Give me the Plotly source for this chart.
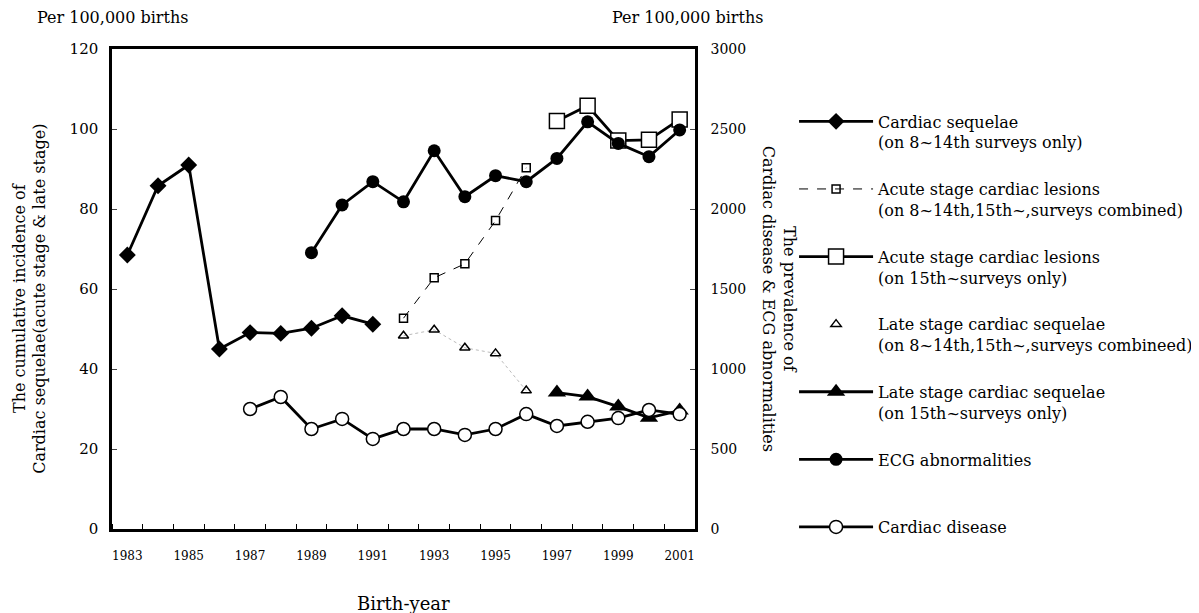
import plotly.graph_objects as go

# Left axis: cumulative incidence (per 100,000 births)
seq_years = [1983, 1984, 1985, 1986, 1987, 1988, 1989, 1990, 1991]
seq_vals = [68.5, 85.8, 91, 45, 49.1, 48.9, 50.2, 53.3, 51.2]

acute_comb_years = [1992, 1993, 1994, 1995, 1996]
acute_comb_vals = [52.7, 62.8, 66.3, 77.1, 90.3]

acute_15_years = [1997, 1998, 1999, 2000, 2001]
acute_15_vals = [102, 105.8, 97.1, 97.3, 102.4]

late_comb_years = [1992, 1993, 1994, 1995, 1996]
late_comb_vals = [48.3, 49.8, 45.3, 43.9, 34.6]

late_15_years = [1997, 1998, 1999, 2000, 2001]
late_15_vals = [34.1, 33.1, 30.6, 27.8, 29.6]

# Right axis: prevalence (per 100,000 births)
ecg_years = list(range(1989, 2002))
ecg_vals = [1727, 2025, 2171, 2045, 2364, 2077, 2208, 2171, 2316, 2545, 2410, 2327, 2494]

disease_years = list(range(1987, 2002))
disease_vals = [750, 825, 625, 688, 563, 625, 625, 588, 625, 718, 644, 670, 693, 744, 718]

year_ticks = [1983, 1985, 1987, 1989, 1991, 1993, 1995, 1997, 1999, 2001]

FONT = "DejaVu Serif"

fig = go.Figure()

fig.add_trace(go.Scatter(
    x=seq_years, y=seq_vals, mode="lines+markers", legendgroup="a",
    name="Cardiac sequelae<br>(on 8~14th surveys only)",
    line=dict(color="black", width=2.8),
    marker=dict(symbol="diamond", size=13, color="black"),
))
fig.add_trace(go.Scatter(
    x=acute_comb_years, y=acute_comb_vals, mode="lines+markers", legendgroup="b",
    name="Acute stage cardiac lesions<br>(on 8~14th,15th~,surveys combined)",
    line=dict(color="black", width=1, dash="dash"),
    marker=dict(symbol="square-open", size=8, color="black", line=dict(width=1.5)),
))
fig.add_trace(go.Scatter(
    x=acute_15_years, y=acute_15_vals, mode="lines+markers", legendgroup="c",
    name="Acute stage cardiac lesions<br>(on 15th~surveys only)",
    line=dict(color="black", width=2.8),
    marker=dict(symbol="square", size=15, color="white", line=dict(color="black", width=1.5)),
))
fig.add_trace(go.Scatter(
    x=late_comb_years, y=late_comb_vals, mode="lines", showlegend=False,
    line=dict(color="#bbbbbb", width=1, dash="dot"),
))
fig.add_trace(go.Scatter(
    x=late_comb_years, y=late_comb_vals, mode="markers", legendgroup="d",
    name="Late stage cardiac sequelae<br>(on 8~14th,15th~,surveys combineed)",
    marker=dict(symbol="triangle-up-open", size=9, color="black", line=dict(width=1.5)),
))
fig.add_trace(go.Scatter(
    x=late_15_years, y=late_15_vals, mode="lines+markers", legendgroup="e",
    name="Late stage cardiac sequelae<br>(on 15th~surveys only)",
    line=dict(color="black", width=2.8),
    marker=dict(symbol="triangle-up", size=16, color="black"),
))
fig.add_trace(go.Scatter(
    x=ecg_years, y=ecg_vals, mode="lines+markers", yaxis="y2", legendgroup="f",
    name="ECG abnormalities<br> ",
    line=dict(color="black", width=2.8),
    marker=dict(symbol="circle", size=13, color="black"),
))
fig.add_trace(go.Scatter(
    x=disease_years, y=disease_vals, mode="lines+markers", yaxis="y2", legendgroup="g",
    name="Cardiac disease<br> ",
    line=dict(color="black", width=2.8),
    marker=dict(symbol="circle", size=13, color="white", line=dict(color="black", width=1.5)),
))

fig.update_layout(
    width=1191, height=605,
    margin=dict(l=104, r=504, t=41, b=84),
    plot_bgcolor="white", paper_bgcolor="white",
    font=dict(family=FONT, color="black", size=14),
    xaxis=dict(
        range=[1982.5, 2001.5], tickmode="array", tickvals=year_ticks,
        ticks="", showgrid=False, zeroline=False,
        showline=True, linecolor="black", linewidth=2.5, mirror=True,
        tickfont=dict(size=12), ticklabelstandoff=14,
        minor=dict(tickmode="linear", tick0=1982.5, dtick=1, ticks="inside",
                   ticklen=5, tickcolor="black", showgrid=False),
    ),
    yaxis=dict(
        range=[0, 120], dtick=20, ticks="inside", ticklen=5,
        showgrid=False, zeroline=False,
        showline=True, linecolor="black", linewidth=2.5, mirror=True,
        tickfont=dict(size=15), ticklabelstandoff=8,
    ),
    yaxis2=dict(
        range=[0, 3000], dtick=500, overlaying="y", side="right",
        ticks="inside", ticklen=5, showgrid=False, zeroline=False,
        showline=True, linecolor="black", linewidth=2.5,
        tickfont=dict(size=14), ticklabelstandoff=10,
    ),
    legend=dict(
        xref="container", x=0.66, y=0.8845, xanchor="left", yanchor="top",
        traceorder="grouped", tracegroupgap=23, valign="top",
        itemwidth=74,
        font=dict(size=16, family=FONT), bgcolor="rgba(0,0,0,0)",
    ),
    annotations=[
        dict(text="Per 100,000 births", xref="paper", yref="paper",
             x=-0.132, y=1.065, xanchor="left", yanchor="middle",
             showarrow=False, font=dict(size=16)),
        dict(text="Per 100,000 births", xref="paper", yref="paper",
             x=0.854, y=1.065, xanchor="left", yanchor="middle",
             showarrow=False, font=dict(size=16)),
        dict(text="The cumulative incidence of<br>Cardiac sequelae(acute stage & late stage)",
             xref="paper", yref="paper", x=-0.142, y=0.48, textangle=-90,
             xanchor="center", yanchor="middle", showarrow=False, font=dict(size=16)),
        dict(text="The prevalence of<br>Cardiac disease & ECG abnormalities",
             xref="paper", yref="paper", x=1.144, y=0.48, textangle=90,
             xanchor="center", yanchor="middle", showarrow=False, font=dict(size=16)),
        dict(text="Birth-year", xref="paper", yref="paper",
             x=0.5, y=-0.156, xanchor="center", yanchor="middle",
             showarrow=False, font=dict(size=18)),
    ],
)

fig.write_html("out.html")
